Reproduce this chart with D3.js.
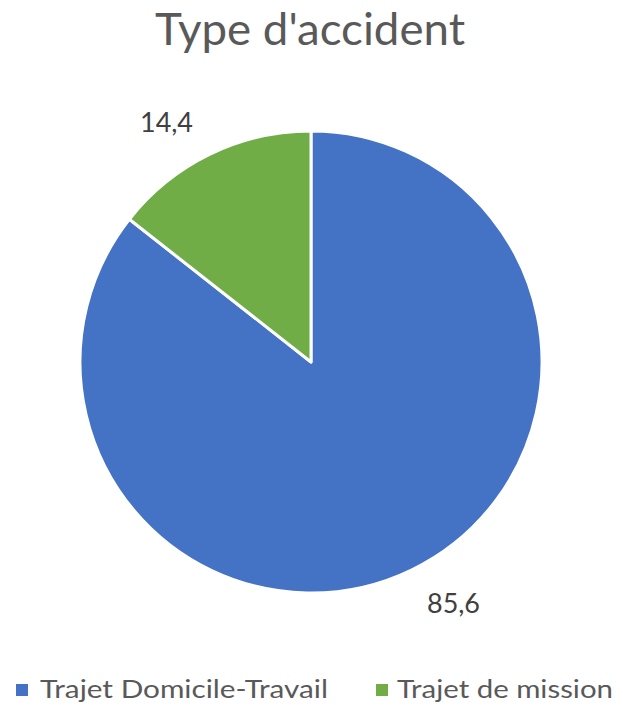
<!DOCTYPE html>
<html><head><meta charset="utf-8">
<script src="https://cdn.jsdelivr.net/npm/d3@7"></script>
<style>body{margin:0;background:#fff}svg{display:block}text{font-family:Lato,"Open Sans",sans-serif}</style>
</head><body>
<svg id="c" width="623" height="705"></svg>
<script>
const categories = ["Trajet Domicile-Travail", "Trajet de mission"];
const values = [85.6, 14.4];
const labels = ["85,6", "14,4"];
const colors = ["#4472C4", "#70AD47"];

const svg = d3.select("#c");
const cx = 311, cy = 362, r = 231;

svg.append("text").attr("x", 310).attr("y", 45).attr("text-anchor", "middle")
  .attr("font-size", 44).attr("fill", "#595959")
  .attr("textLength", 310).attr("lengthAdjust", "spacingAndGlyphs")
  .text("Type d'accident");

const pie = d3.pie().sort(null).value(d => d)(values);
const arc = d3.arc().innerRadius(0).outerRadius(r);
const g = svg.append("g").attr("transform", `translate(${cx},${cy})`);
g.selectAll("path").data(pie).join("path")
  .attr("d", arc).attr("fill", (d, i) => colors[i])
  .attr("stroke", "#fff").attr("stroke-width", 3).attr("stroke-linejoin", "round");

// data labels outside
const labelPos = [[453.5, 613], [166.5, 132]];
g.selectAll("text.lbl").data(pie).join("text").attr("class", "lbl")
  .attr("x", (d, i) => labelPos[i][0] - cx).attr("y", (d, i) => labelPos[i][1] - cy)
  .attr("text-anchor", "middle").attr("font-size", 27).attr("fill", "#404040")
  .attr("textLength", 53).attr("lengthAdjust", "spacingAndGlyphs")
  .text((d, i) => labels[i]);

// legend
const leg = [{x: 16, tx: 40, tl: 288}, {x: 376, tx: 397, tl: 216}];
const lg = svg.append("g");
categories.forEach((c, i) => {
  lg.append("rect").attr("x", leg[i].x).attr("y", 684).attr("width", 12).attr("height", 12).attr("fill", colors[i]);
  lg.append("text").attr("x", leg[i].tx).attr("y", 698).attr("font-size", 25).attr("fill", "#595959")
    .attr("textLength", leg[i].tl).attr("lengthAdjust", "spacingAndGlyphs").text(c);
});
</script>
</body></html>
